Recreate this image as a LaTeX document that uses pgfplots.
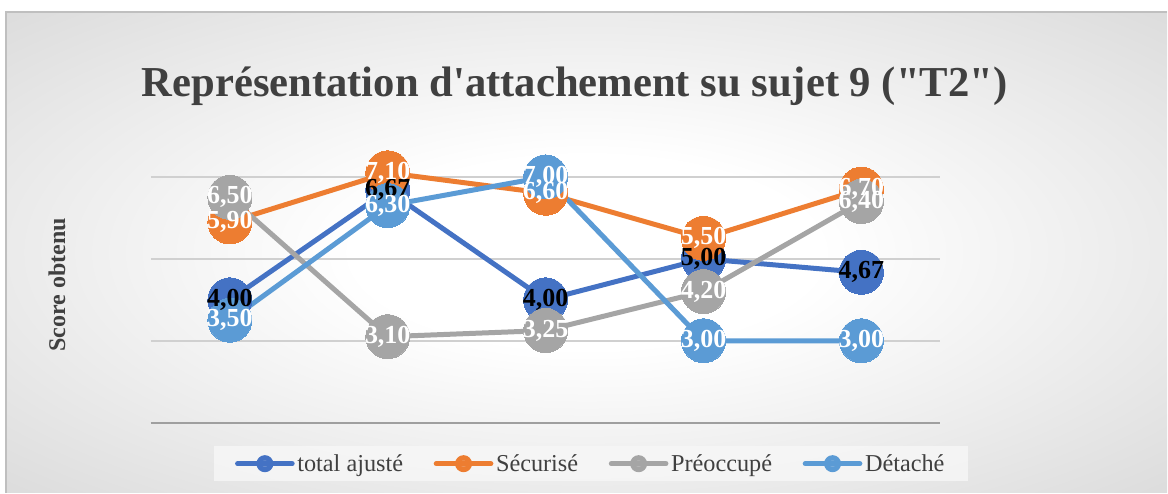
\documentclass[border=0pt]{standalone}
\usepackage{pgfplots}
\pgfplotsset{compat=1.18}
\usepackage{pgfplotstable}
\usepackage{fontspec}
\newfontfamily\tnr{Liberation Serif}
\definecolor{ctot}{HTML}{4472C4}
\definecolor{csec}{HTML}{ED7D31}
\definecolor{cpre}{HTML}{A5A5A5}
\definecolor{cdet}{HTML}{5B9BD5}
\definecolor{ctitle}{HTML}{404040}
\definecolor{cgrid}{HTML}{D0D0D0}
\pgfdeclareradialshading{bgshade}{\pgfpoint{0bp}{0bp}}{color(0bp)=(white); color(10bp)=(white); color(50bp)=(gray!43); color(72bp)=(gray!58); color(100bp)=(gray!58)}

\pgfplotstableread{
x tot sec pre det
0 4.00 5.90 6.50 3.50
1 6.67 7.10 3.10 6.30
2 4.00 6.60 3.25 7.00
3 5.00 5.50 4.20 3.00
4 4.67 6.70 6.40 3.00
}\datatab

\begin{document}
\begin{tikzpicture}
\begin{scope}[x=0.75pt,y=0.75pt]
\fill[white] (0,0) rectangle (1168,493);
\shade[shading=bgshade] (6,0) rectangle (1168,481);
\draw[gray!50,line width=1.2pt] (6,0) -- (6,481) -- (1168,481);
\node[anchor=base, text=ctitle, font=\tnr\bfseries\fontsize{32}{38}\selectfont, inner sep=0pt] at (575,396) {Représentation d'attachement su sujet 9 ("T2")};
\node[rotate=90, text=ctitle, font=\tnr\bfseries\fontsize{18}{22}\selectfont, inner sep=0pt] at (57,208) {Score obtenu};
\end{scope}
\begin{axis}[
  at={(113.25pt,52.5pt)}, anchor=south west,
  scale only axis, width=592.5pt, height=184.5pt,
  xmin=-0.5, xmax=4.5, ymin=1, ymax=7,
  xtick=\empty, ytick={1,3,5,7}, yticklabels={},
  ymajorgrids, grid style={draw=cgrid, line width=1.1pt},
  major tick length=0pt,
  axis line style={draw=none},
  clip=false,
  legend columns=4,
  legend style={at={(0.5576,-0.1667)}, anchor=center, fill=gray!6, fill opacity=0.8, text opacity=1, draw=none,
    font=\tnr\fontsize{18.2}{20}\selectfont, text=ctitle,
    inner xsep=16pt, inner ysep=4pt,
    /tikz/every even column/.append style={column sep=21pt}},
  legend cell align=left,
  legend image code/.code={\draw[line width=3.75pt, line cap=round] (0pt,0pt) -- (41pt,0pt); \fill (20.5pt,0pt) circle (4.5pt);},
  every axis plot/.append style={line width=3.75pt, line join=round},
  nodes near coords={\pgfmathprintnumber[fixed,fixed zerofill,precision=2,use comma,assume math mode=true]{\pgfplotspointmeta}},
  every node near coord/.append style={anchor=center, font=\tnr\bfseries\fontsize{19.5}{20}\selectfont, inner sep=0pt},
]
\addplot[ctot, mark=*, mark size=16.5pt, mark options={fill=ctot, draw=ctot, line width=0pt}, nodes near coords={}] table[x=x,y=tot] {\datatab};
\addlegendentry{total ajusté}
\addplot[csec, mark=*, mark size=16.5pt, mark options={fill=csec, draw=csec, line width=0pt}, nodes near coords={}] table[x=x,y=sec] {\datatab};
\addlegendentry{Sécurisé}
\addplot[cpre, mark=*, mark size=16.5pt, mark options={fill=cpre, draw=cpre, line width=0pt}, nodes near coords={}] table[x=x,y=pre] {\datatab};
\addlegendentry{Préoccupé}
\addplot[cdet, mark=*, mark size=16.5pt, mark options={fill=cdet, draw=cdet, line width=0pt}, nodes near coords={}] table[x=x,y=det] {\datatab};
\addlegendentry{Détaché}
% data labels on top
\addplot[draw=none, no marks, forget plot, point meta=y, every node near coord/.append style={text=black}] table[x=x,y=tot] {\datatab};
\addplot[draw=none, no marks, forget plot, point meta=y, every node near coord/.append style={text=white}] table[x=x,y=sec] {\datatab};
\addplot[draw=none, no marks, forget plot, point meta=y, every node near coord/.append style={text=white}] table[x=x,y=pre] {\datatab};
\addplot[draw=none, no marks, forget plot, point meta=y, every node near coord/.append style={text=white}] table[x=x,y=det] {\datatab};
\draw[gray!75, line width=1.3pt] (axis cs:-0.5,1) -- (axis cs:4.5,1);
\end{axis}
\end{tikzpicture}
\end{document}
